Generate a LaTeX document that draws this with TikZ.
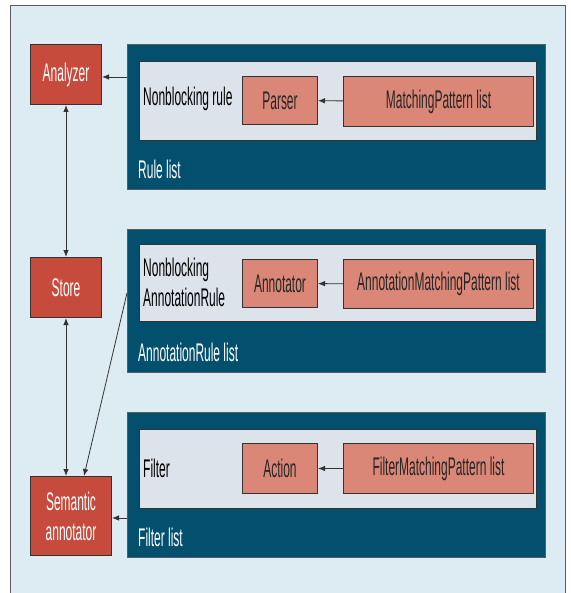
\documentclass[tikz,border=0pt]{standalone}
\usepackage{fontspec}
\setmainfont{Liberation Sans}[FakeStretch=0.47]
\usetikzlibrary{arrows.meta}
\definecolor{paleblue}{HTML}{DDEBF3}
\definecolor{deepblue}{HTML}{03506E}
\definecolor{greyblue}{HTML}{DCE3EB}
\definecolor{brick}{HTML}{C64B3D}
\definecolor{salmon}{HTML}{DB8777}
\definecolor{edge}{HTML}{333333}

\begin{document}
\begin{tikzpicture}[x=1pt,y=-1pt,
  every node/.style={font=\fontsize{25.5}{30}\selectfont,inner sep=0pt},
  comp/.style={draw=edge,line width=1pt,fill=brick,text=white,align=center,anchor=north west},
  part/.style={draw=edge,line width=1pt,fill=salmon,text=black!85,anchor=north west},
  list/.style={draw=edge!80,line width=1pt,fill=deepblue,anchor=north west},
  slot/.style={draw=edge,line width=1pt,fill=greyblue,anchor=north west},
  lbl/.style={anchor=west,text=white},
  arr/.style={-{Latex[length=7pt,width=5.5pt]},draw=edge,line width=0.8pt}]
\useasboundingbox (0,0) rectangle (570,593);
\fill[white] (0,0) rectangle (570,593);
\fill[paleblue] (10,6) rectangle (565,593);
\draw[edge!80,line width=1pt] (10,593)--(10,6)--(565,6)--(565,593);

% components on the left
\node[comp,minimum width=71pt,minimum height=60pt] (an) at (30,44) {Analyzer};
\node[comp,minimum width=71pt,minimum height=60pt] (st) at (30,257) {Store};
\node[comp,minimum width=81pt,minimum height=79pt] (sa) at (30,476) {Semantic\\annotator};

% rule list
\node[list,minimum width=418pt,minimum height=145pt] (rl) at (127,44) {};
\node[slot,minimum width=397pt,minimum height=79pt] (rs) at (139,61) {};
\node[part,minimum width=75pt,minimum height=48pt] (pa) at (242,76) {Parser};
\node[part,minimum width=190pt,minimum height=50pt] (mp) at (343,76) {MatchingPattern list};
\node[anchor=west] (nr) at (143,99) {Nonblocking rule};
\node[lbl] (rll) at (138,169) {Rule list};

% annotation rule list
\node[list,minimum width=418pt,minimum height=143pt] (al) at (127,229) {};
\node[slot,minimum width=397pt,minimum height=77pt] (as) at (139,244) {};
\node[part,minimum width=75pt,minimum height=48pt] (ann) at (242,259) {Annotator};
\node[part,minimum width=190pt,minimum height=49pt] (amp) at (343,259) {AnnotationMatchingPattern list};
\node[anchor=west,align=left] (nar) at (143,282) {Nonblocking\\AnnotationRule};
\node[lbl] (all) at (138,352) {AnnotationRule list};

% filter list
\node[list,minimum width=418pt,minimum height=145pt] (fl) at (127,412) {};
\node[slot,minimum width=397pt,minimum height=79pt] (fs) at (139,429) {};
\node[part,minimum width=75pt,minimum height=50pt] (ac) at (242,443) {Action};
\node[part,minimum width=190pt,minimum height=50pt] (fmp) at (343,443) {FilterMatchingPattern list};
\node[anchor=west] (fi) at (143,468) {Filter};
\node[lbl] (fll) at (138,537) {Filter list};

\coordinate (rlin) at (127,77);
\coordinate (alin) at (127,293);
\coordinate (flin) at (127,518);
\coordinate (satop) at (84,476);

\draw[arr] (mp) -- (pa);
\draw[arr] (amp) -- (ann);
\draw[arr] (fmp) -- (ac);
\draw[arr] (rlin) -- (rlin -| an.east);
\draw[arr] (flin) -- (flin -| sa.east);
\draw[arr] (alin) -- (satop);
\draw[arr,{Latex[length=7pt,width=5.5pt]}-{Latex[length=7pt,width=5.5pt]}] (an.south) -- (st.north);
\draw[arr,{Latex[length=7pt,width=5.5pt]}-{Latex[length=7pt,width=5.5pt]}] (st.south) -- (st.south |- sa.north);
\end{tikzpicture}
\end{document}
